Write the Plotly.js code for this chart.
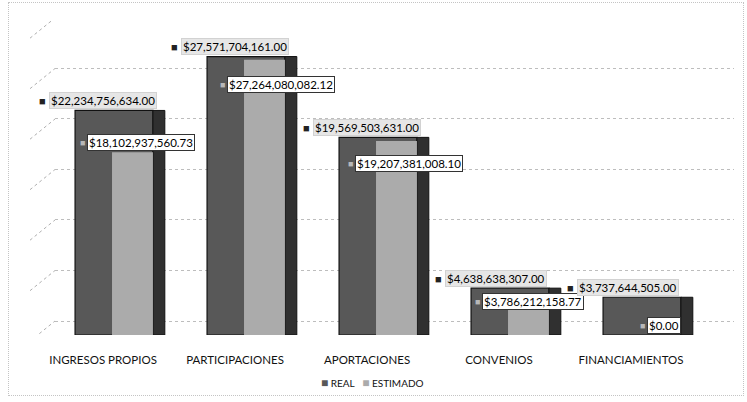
<!DOCTYPE html>
<html>
<head>
<meta charset="utf-8">
<script src="https://cdn.plot.ly/plotly-3.0.1.min.js"></script>
<style>
  html, body { margin: 0; padding: 0; background: #fff; }
  #wrap { position: relative; width: 747px; height: 402px; }
  #frame { position: absolute; left: 8px; top: 2px; width: 736px; height: 394px; border: 1px dotted #c4c4c4; box-sizing: border-box; pointer-events: none; }
  #chart { width: 747px; height: 402px; }
</style>
</head>
<body>
<div id="wrap">
  <div id="chart"></div>
  <div id="frame"></div>
</div>
<script>
// ---- data ----
const categories = ["INGRESOS PROPIOS", "PARTICIPACIONES", "APORTACIONES", "CONVENIOS", "FINANCIAMIENTOS"];
const realValues = [22234756634.00, 27571704161.00, 19569503631.00, 4638638307.00, 3737644505.00];
const estimadoValues = [18102937560.73, 27264080082.12, 19207381008.10, 3786212158.77, 0.00];
const seriesNames = ["REAL", "ESTIMADO"];
const gridTicks = [0, 5e9, 10e9, 15e9, 20e9, 25e9, 30e9];

// label placement tweaks (pixels) – layout only
const estLabelDx = [-21, -13, -17, -22, 11];
const estLabelDy = [10, -25, -22, -5, 10];

function money(v) {
  return "$" + v.toLocaleString("en-US", {minimumFractionDigits: 2, maximumFractionDigits: 2});
}

const DARK = "#585858";
const SIDE = "#303030";
const LIGHT = "#ababab";
const FONT = "Lato, 'Open Sans', sans-serif";

const traces = [
  {
    type: "bar", name: seriesNames[0], x: categories, y: realValues,
    offset: -0.212, width: 0.59,
    marker: {color: DARK, line: {color: "#111", width: 1.2}},
    hoverinfo: "skip", yaxis: "y", showlegend: false
  },
  {
    type: "bar", name: seriesNames[0] + " (lado)", x: categories, y: realValues,
    offset: 0.378, width: 0.09,
    marker: {color: SIDE, line: {color: "#111", width: 1}},
    hoverinfo: "skip", yaxis: "y", showlegend: false
  },
  {
    type: "bar", name: seriesNames[1], x: categories, y: estimadoValues,
    offset: 0.068, width: 0.31,
    marker: {color: LIGHT, line: {color: "#9a9a9a", width: 0}},
    hoverinfo: "skip", yaxis: "y", showlegend: false
  },
  // invisible helper trace for the back-wall grid axis
  {
    type: "scatter", x: [categories[0]], y: [0], yaxis: "y2",
    mode: "markers", marker: {opacity: 0}, showlegend: false, hoverinfo: "skip"
  }
];

const annotations = [];
categories.forEach((c, i) => {
  annotations.push({
    x: c, y: realValues[i], xref: "x", yref: "y",
    text: "■", showarrow: false, xanchor: "center", yanchor: "middle",
    xshift: -61, yshift: 10, font: {family: FONT, size: 11, color: "#222"}
  });
  annotations.push({
    x: c, y: realValues[i], xref: "x", yref: "y",
    text: money(realValues[i]), showarrow: false, xanchor: "left", yanchor: "middle",
    xshift: -54, yshift: 10, bgcolor: "#e6e6e6", bordercolor: "#d2d2d2", borderwidth: 1, borderpad: 1,
    font: {family: FONT, size: 11.5, color: "#000"}
  });
  annotations.push({
    x: c, y: estimadoValues[i], xref: "x", yref: "y",
    text: "■", showarrow: false, xanchor: "center", yanchor: "middle",
    xshift: estLabelDx[i], yshift: estLabelDy[i], font: {family: FONT, size: 9, color: "#b8b8b8"}
  });
  annotations.push({
    x: c, y: estimadoValues[i], xref: "x", yref: "y",
    text: money(estimadoValues[i]), showarrow: false, xanchor: "left", yanchor: "middle",
    xshift: estLabelDx[i] + 5, yshift: estLabelDy[i], bgcolor: "#ffffff", bordercolor: "#333", borderwidth: 1, borderpad: 1,
    font: {family: FONT, size: 11.5, color: "#000"}
  });
});

// legend drawn as text
annotations.push({
  xref: "paper", yref: "paper", x: 0.467, y: -0.152, xanchor: "center", yanchor: "middle",
  showarrow: false,
  text: "<span style='color:" + DARK + ";font-size:12px'>■</span> " + seriesNames[0] +
        "&nbsp;&nbsp;&nbsp;<span style='color:" + LIGHT + ";font-size:12px'>■</span> " + seriesNames[1],
  font: {family: FONT, size: 10, color: "#111"}
});

// 3D wall diagonals at each grid line
const shapes = gridTicks.map(v => ({
  type: "line", xref: "paper", yref: "y2",
  x0: -25 / 679, x1: 0, y0: v - 2.0e9, y1: v,
  line: {color: "#b0b0b0", width: 1, dash: "dot"}
}));

const layout = {
  width: 747, height: 402,
  margin: {l: 55, r: 13, t: 20, b: 67},
  paper_bgcolor: "rgba(255,255,255,0)", plot_bgcolor: "rgba(255,255,255,0)",
  barmode: "overlay",
  showlegend: false,
  xaxis: {
    type: "category", range: [-0.364, 4.78],
    showgrid: false, zeroline: false, showline: false,
    ticks: "outside", ticklen: 14, tickcolor: "rgba(0,0,0,0)",
    tickfont: {family: FONT, size: 11.5, color: "#111"}
  },
  yaxis: {
    range: [0, 31.19e9], showgrid: false, zeroline: false, showline: false,
    showticklabels: false, ticks: ""
  },
  yaxis2: {
    overlaying: "y", range: [-1.386e9, 29.8e9], tickvals: gridTicks,
    showgrid: true, gridcolor: "#bdbdbd", griddash: "dot", gridwidth: 1,
    zeroline: false, showline: false, showticklabels: false, ticks: ""
  },
  annotations: annotations,
  shapes: shapes
};

Plotly.newPlot("chart", traces, layout, {staticPlot: true, displayModeBar: false});
</script>
</body>
</html>
